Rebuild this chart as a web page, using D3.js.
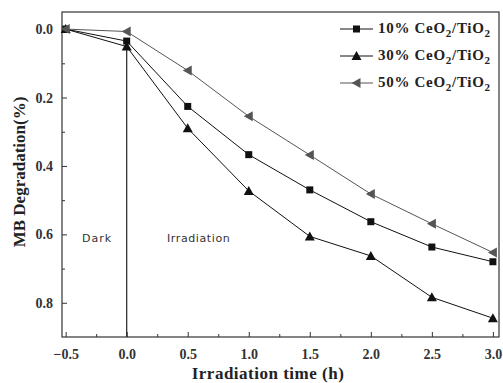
<!DOCTYPE html>
<html>
<head>
<meta charset="utf-8">
<script src="https://cdn.jsdelivr.net/npm/d3@7"></script>
<style>
  body { margin: 0; background: #fff; }
  svg { display: block; }
  .tick text { font-family: "Liberation Serif", serif; font-weight: bold; font-size: 14px; fill: #333; }
</style>
</head>
<body>
<div id="chart"></div>
<script>
// chart values
const times = [-0.5, 0, 0.5, 1.0, 1.5, 2.0, 2.5, 3.0];
const ceo10 = [0.0, 0.035, 0.226, 0.367, 0.47, 0.563, 0.637, 0.68];
const ceo30 = [0.0, 0.051, 0.29, 0.473, 0.606, 0.663, 0.784, 0.845];
const ceo50 = [0.0, 0.007, 0.121, 0.255, 0.368, 0.482, 0.569, 0.653];
const seriesNames = ["10%", "30%", "50%"];
const xTicks = [-0.5, 0, 0.5, 1.0, 1.5, 2.0, 2.5, 3.0];
const yTicks = [0.0, 0.2, 0.4, 0.6, 0.8];

function drawChart() {
  const width = 503, height = 383
  const margin = { top: 12, right: 4, bottom: 46, left: 62 }

  const svg = d3.select("#chart").append("svg")
    .attr("width", width).attr("height", height)

  let x = d3.scaleLinear().domain([-0.53, 3.05]).range([margin.left, width - margin.right])
  let y = d3.scaleLinear().domain([-0.05, 0.9]).range([margin.top, height - margin.bottom])

  // minor ticks first (inward, short)
  svg.append("g")
    .attr("transform", `translate(0,${height - margin.bottom})`)
    .call(d3.axisBottom(x).tickValues(d3.range(-0.25, 3.01, 0.5)).tickSize(-3).tickFormat(""))
    .call(g => g.select(".domain").remove())
  svg.append("g")
    .attr("transform", `translate(${margin.left},0)`)
    .call(d3.axisLeft(y).tickValues(d3.range(0.1, 0.9, 0.2)).tickSize(-3).tickFormat(""))
    .call(g => g.select(".domain").remove())

  // major axes, ticks pointing inside
  svg.append("g")
    .attr("transform", `translate(0,${height - margin.bottom})`)
    .call(d3.axisBottom(x).tickValues(xTicks).tickSizeInner(-5).tickSizeOuter(0).tickPadding(12)
      .tickFormat(d3.format(".1f")))
    .call(g => g.select(".domain").remove())
  svg.append("g")
    .attr("transform", `translate(${margin.left},0)`)
    .call(d3.axisLeft(y).tickValues(yTicks).tickSizeInner(-5).tickSizeOuter(0).tickPadding(9)
      .tickFormat(d3.format(".1f")))
    .call(g => g.select(".domain").remove())

  svg.selectAll(".tick line").attr("stroke", "#333")

  // frame
  svg.append("rect")
    .attr("x", margin.left).attr("y", margin.top)
    .attr("width", width - margin.right - margin.left)
    .attr("height", height - margin.bottom - margin.top)
    .attr("fill", "none").attr("stroke", "#333").attr("stroke-width", 1.2)

  // dark / irradiation split line
  svg.append("line")
    .attr("x1", x(0)).attr("x2", x(0))
    .attr("y1", y(ceo10[1])).attr("y2", height - margin.bottom)
    .attr("stroke", "#222").attr("stroke-width", 1.2)

  svg.append("text").text("Dark")
    .attr("x", 82).attr("y", 242)
    .attr("font-family", "DejaVu Sans").attr("font-size", 11).attr("letter-spacing", 1)
    .attr("fill", "#333")
  svg.append("text").text("Irradiation")
    .attr("x", 167).attr("y", 242)
    .attr("font-family", "DejaVu Sans").attr("font-size", 11).attr("letter-spacing", 0.6)
    .attr("fill", "#333")

  const series = [
    { name: seriesNames[0], values: ceo10, color: "#111", shape: "square" },
    { name: seriesNames[1], values: ceo30, color: "#111", shape: "up" },
    { name: seriesNames[2], values: ceo50, color: "#555", shape: "left" }
  ]

  function marker(g, shape, cx, cy, color) {
    if (shape == "square") {
      g.append("rect").attr("x", cx - 3.5).attr("y", cy - 3.5)
        .attr("width", 7).attr("height", 7).attr("fill", color)
    } else if (shape == "up") {
      g.append("path")
        .attr("d", `M${cx},${cy - 5}L${cx + 5},${cy + 4}L${cx - 5},${cy + 4}Z`)
        .attr("fill", color)
    } else {
      g.append("path")
        .attr("d", `M${cx - 5},${cy}L${cx + 4},${cy - 5}L${cx + 4},${cy + 5}Z`)
        .attr("fill", color)
    }
  }

  let line = d3.line().x((d, i) => x(times[i])).y(d => y(d))

  series.forEach(s => {
    let g = svg.append("g")
    g.append("path")
      .attr("d", line(s.values))
      .attr("fill", "none").attr("stroke", s.color).attr("stroke-width", 1)
    s.values.forEach((v, i) => marker(g, s.shape, x(times[i]), y(v), s.color))
  })

  // legend
  let lg = svg.append("g")
  series.forEach((s, i) => {
    let ly = 29 + i * 27
    lg.append("line").attr("x1", 340).attr("x2", 373).attr("y1", ly).attr("y2", ly)
      .attr("stroke", s.color).attr("stroke-width", 1)
    marker(lg, s.shape, 356.5, ly, s.color)
    let t = lg.append("text").attr("x", 378).attr("y", ly + 4)
      .attr("font-family", "Liberation Serif").attr("font-weight", "bold").attr("font-size", 15)
      .attr("letter-spacing", 0.7).attr("fill", "#222")
    t.append("tspan").text(s.name + " CeO")
    t.append("tspan").text("2").attr("font-size", 11).attr("dy", 4)
    t.append("tspan").text("/TiO").attr("dy", -4)
    t.append("tspan").text("2").attr("font-size", 11).attr("dy", 4)
  })

  // axis titles
  svg.append("text").text("Irradiation time (h)")
    .attr("x", 268).attr("y", 379).attr("text-anchor", "middle")
    .attr("font-family", "Liberation Serif").attr("font-weight", "bold").attr("font-size", 17)
    .attr("letter-spacing", 0.5).attr("fill", "#222")
  svg.append("text").text("MB Degradation(%)")
    .attr("transform", "translate(25,172) rotate(-90)").attr("text-anchor", "middle")
    .attr("font-family", "Liberation Serif").attr("font-weight", "bold").attr("font-size", 17)
    .attr("fill", "#222")
}

drawChart()
</script>
</body>
</html>
